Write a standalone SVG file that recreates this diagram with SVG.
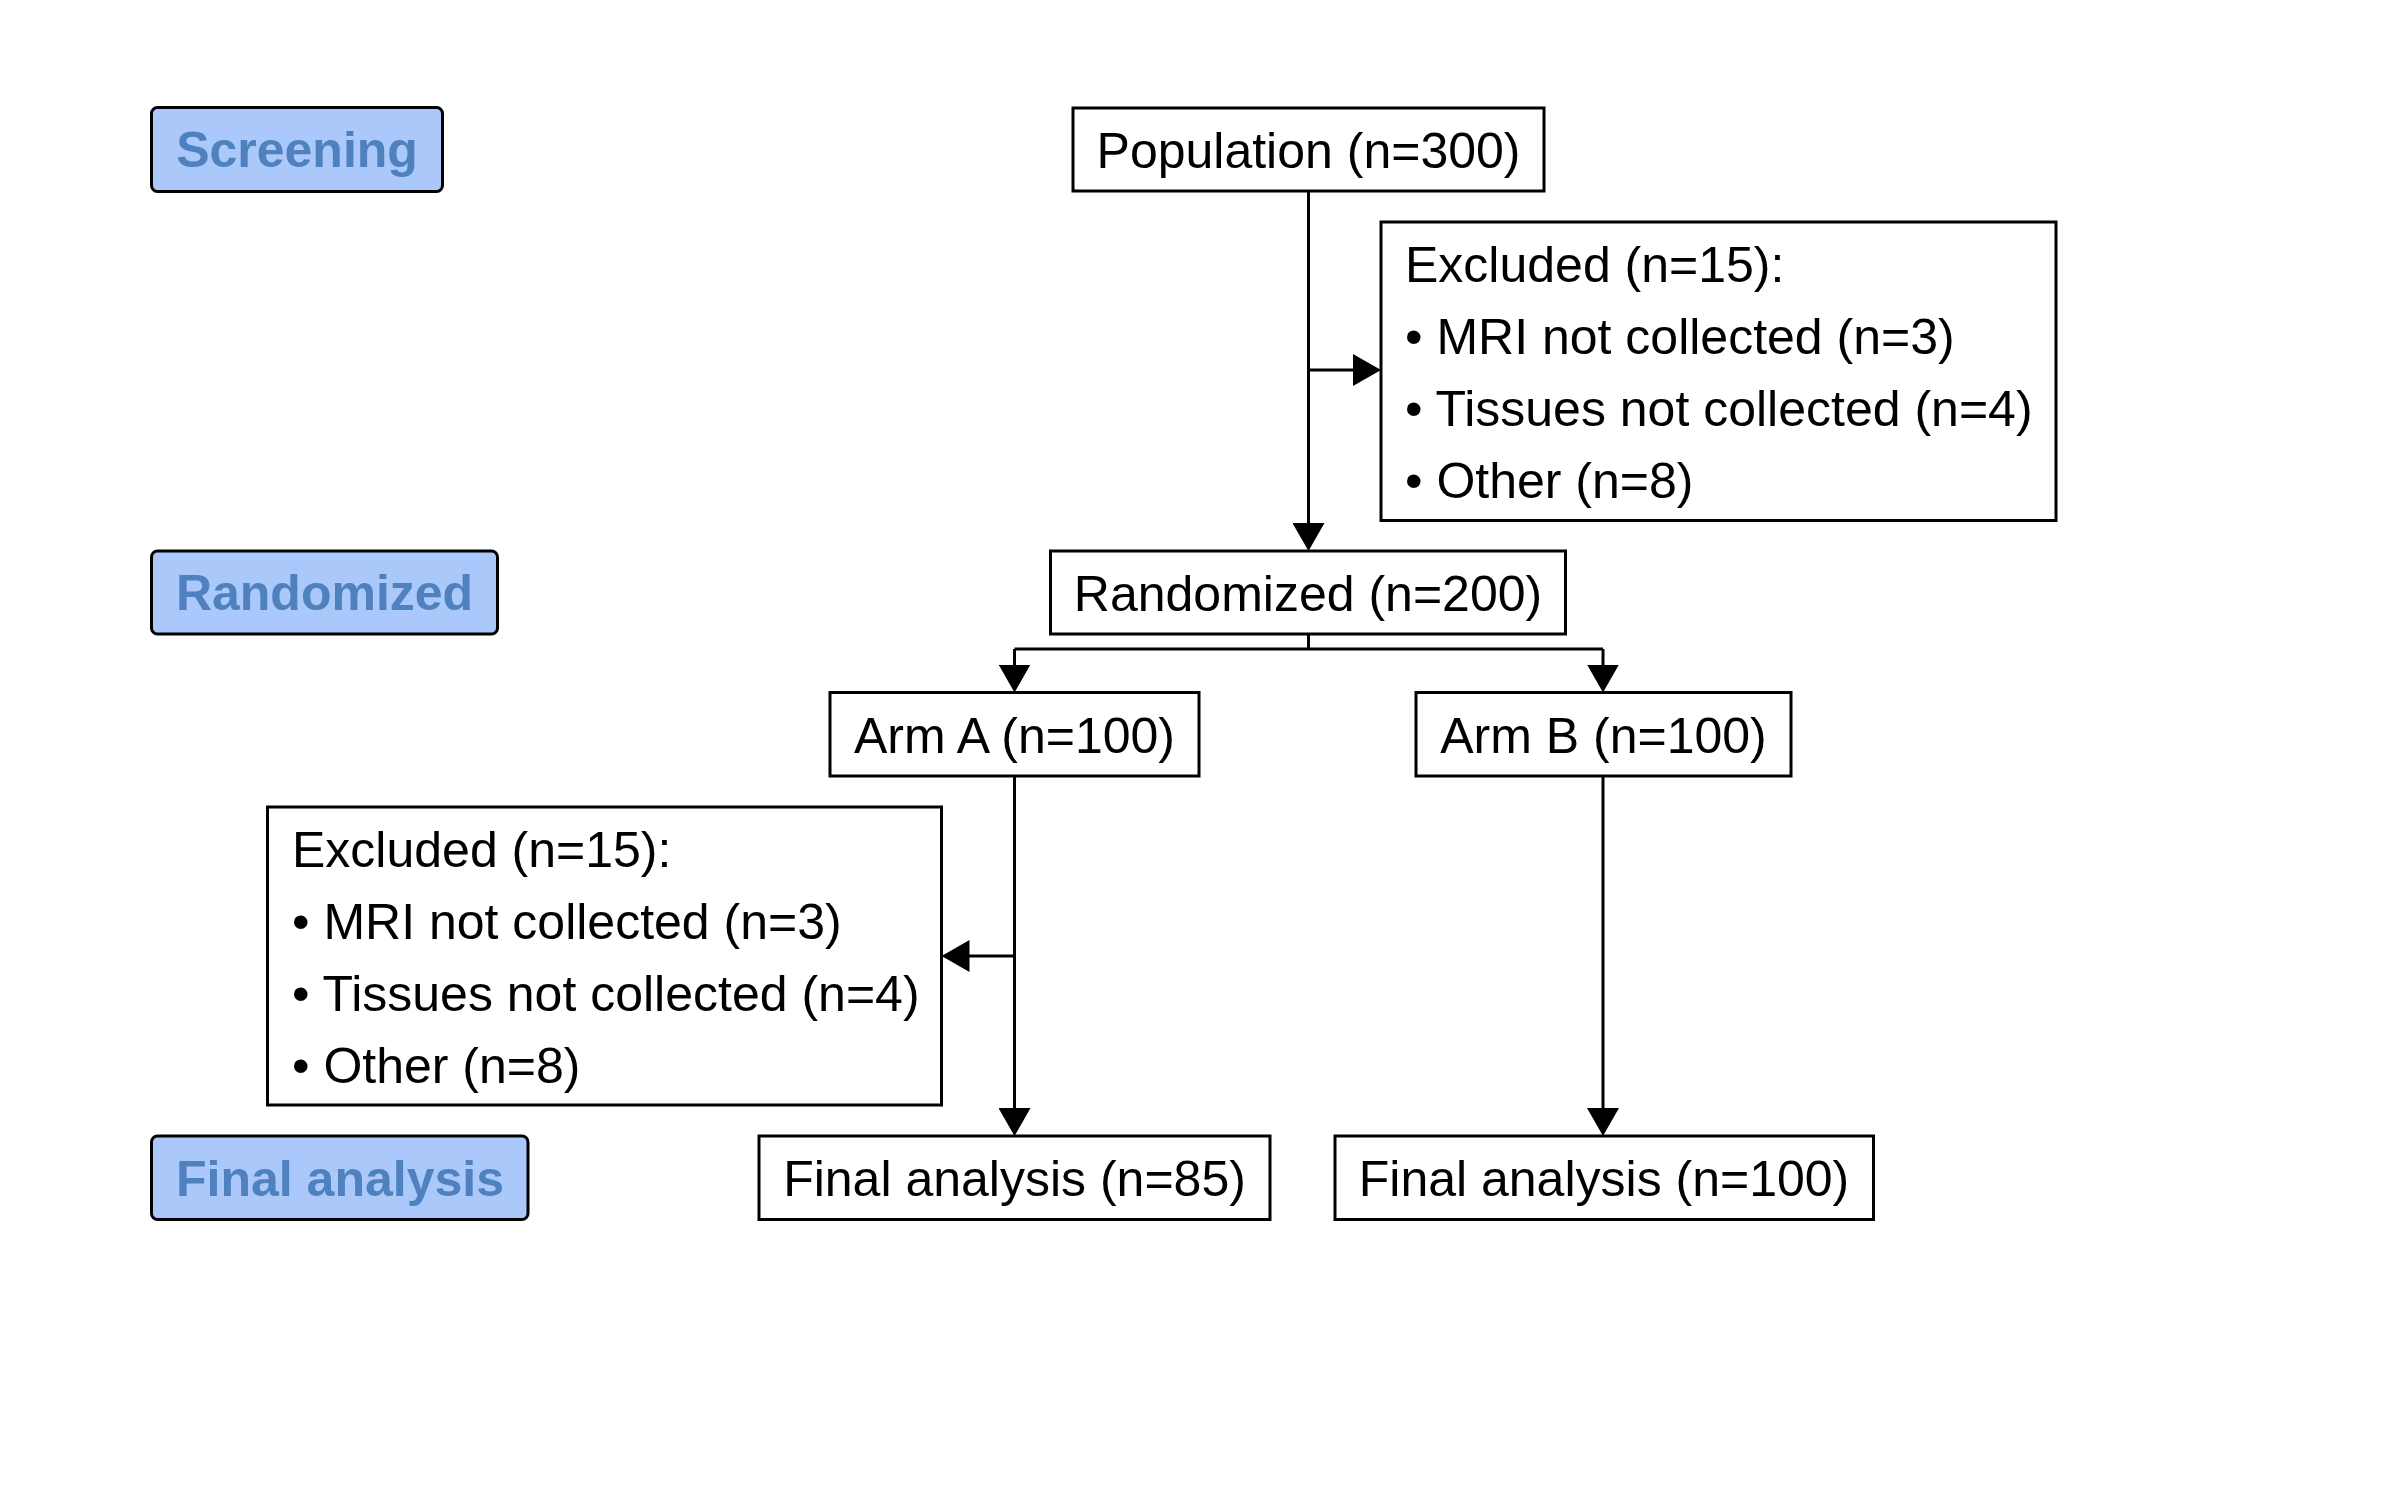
<svg xmlns="http://www.w3.org/2000/svg" width="2400" height="1500" viewBox="0 0 2400 1500">
<style>
.box{fill:#ffffff;stroke:#000000;stroke-width:3}
.lab{fill:#AAC8FA;stroke:#000000;stroke-width:3}
.t{font-family:"Liberation Sans",Arial,sans-serif;font-size:50px;fill:#000000}
.c{text-anchor:middle}
.lt{font-family:"Liberation Sans",Arial,sans-serif;font-size:50px;font-weight:bold;fill:#4E81BD;text-anchor:middle}
.ln{fill:none;stroke:#000000;stroke-width:3}
.arr{marker-end:url(#ah)}
</style>
<defs>
<marker id="ah" markerUnits="userSpaceOnUse" markerWidth="28" markerHeight="32" refX="18" refY="16" orient="auto" viewBox="0 0 28 32">
<path d="M0,0 L28,16 L0,32 Z" fill="#000000"/>
</marker>
</defs>
<rect width="2400" height="1500" fill="#ffffff"/>
<g id="connectors">
<path class="ln arr" d="M1308.5 191 V541"/>
<path class="ln arr" d="M1308.5 370 H1371"/>
<path class="ln" d="M1308.5 634 V649 M1014.5 649 H1603"/>
<path class="ln arr" d="M1014.5 649 V682.5"/>
<path class="ln arr" d="M1603 649 V682.5"/>
<path class="ln arr" d="M1014.5 776 V1126"/>
<path class="ln arr" d="M1014.5 956 H951.5"/>
<path class="ln arr" d="M1603 776 V1126"/>
</g>
<g id="label-screening">
<rect class="lab" x="151.5" y="107.5" width="291" height="84" rx="6"/>
<text class="lt" x="297" y="167">Screening</text>
</g>
<g id="label-randomized">
<rect class="lab" x="151.5" y="551" width="346" height="83" rx="6"/>
<text class="lt" x="324.5" y="610">Randomized</text>
</g>
<g id="label-final">
<rect class="lab" x="151.5" y="1136" width="376.5" height="83.5" rx="6"/>
<text class="lt" x="340" y="1195.5">Final analysis</text>
</g>
<g id="population">
<rect class="box" x="1073" y="108" width="471" height="83"/>
<text class="t c" x="1308.5" y="168">Population (n=300)</text>
</g>
<g id="excluded-1">
<rect class="box" x="1381" y="222" width="675" height="298.5"/>
<text class="t" x="1405" y="281.5">Excluded (n=15):</text>
<text class="t" x="1405" y="353.5">• MRI not collected (n=3)</text>
<text class="t" x="1405" y="425.5">• Tissues not collected (n=4)</text>
<text class="t" x="1405" y="497.5">• Other (n=8)</text>
</g>
<g id="randomized">
<rect class="box" x="1050.5" y="551" width="515" height="83"/>
<text class="t c" x="1308" y="611">Randomized (n=200)</text>
</g>
<g id="arm-a">
<rect class="box" x="830" y="692.5" width="369" height="83.5"/>
<text class="t c" x="1014.5" y="752.5">Arm A (n=100)</text>
</g>
<g id="arm-b">
<rect class="box" x="1416" y="692.5" width="375" height="83.5"/>
<text class="t c" x="1603.5" y="752.5">Arm B (n=100)</text>
</g>
<g id="excluded-2">
<rect class="box" x="267.5" y="807" width="674" height="298"/>
<text class="t" x="292" y="867">Excluded (n=15):</text>
<text class="t" x="292" y="939">• MRI not collected (n=3)</text>
<text class="t" x="292" y="1011">• Tissues not collected (n=4)</text>
<text class="t" x="292" y="1083">• Other (n=8)</text>
</g>
<g id="final-a">
<rect class="box" x="759" y="1136" width="511" height="83.5"/>
<text class="t c" x="1014.5" y="1196">Final analysis (n=85)</text>
</g>
<g id="final-b">
<rect class="box" x="1335" y="1136" width="538.5" height="83.5"/>
<text class="t c" x="1604" y="1196">Final analysis (n=100)</text>
</g>
</svg>
